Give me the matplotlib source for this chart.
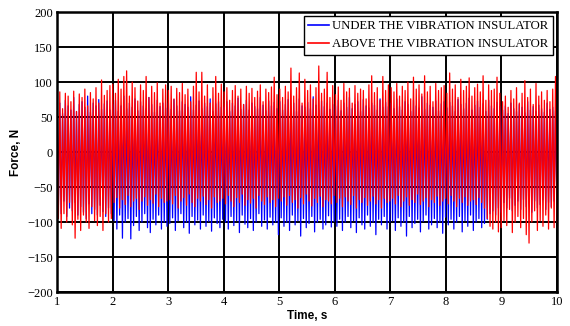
import numpy as np
from matplotlib import pyplot as plt

# peak values, 20 per second from t=1 to t=10
red_hi = [76, 86, 62, 84, 80, 72, 87, 58, 83, 78, 90, 66, 85, 76, 92, 70, 103, 81, 88, 95,
          97, 84, 104, 90, 108, 116, 80, 100, 92, 73, 96, 88, 108, 78, 94, 85, 99, 70, 90, 96,
          88, 94, 76, 91, 85, 98, 82, 90, 72, 94, 114, 86, 114, 80, 96, 70, 92, 108, 84, 97,
          86, 92, 74, 88, 95, 80, 90, 68, 94, 84, 91, 78, 87, 96, 72, 90, 85, 93, 107, 82,
          90, 78, 94, 86, 120, 80, 92, 113, 70, 104, 88, 96, 76, 92, 123, 84, 90, 114, 78, 95,
          82, 93, 74, 98, 86, 91, 70, 95, 84, 90, 88, 76, 96, 109, 85, 92, 74, 108, 88, 96,
          92, 86, 98, 80, 94, 88, 100, 76, 107, 90, 96, 83, 109, 86, 94, 72, 98, 88, 92, 95,
          84, 113, 90, 96, 78, 104, 88, 94, 106, 80, 92, 97, 86, 109, 74, 96, 88, 90, 107, 84,
          72, 80, 64, 88, 76, 92, 70, 84, 102, 78, 90, 68, 98, 80, 86, 74, 88, 72, 90, 108]
red_lo = [-95, -109, -88, -100, -72, -104, -123, -96, -112, -90, -100, -109, -78, -98, -105, -92, -112, -88, -100, -95,
          -72, -65, -80, -68, -75, -62, -78, -70, -66, -82, -70, -64, -76, -68, -73, -60, -78, -66, -72, -70,
          -68, -74, -62, -80, -70, -65, -76, -60, -72, -78, -66, -70, -63, -75, -68, -80, -64, -72, -70, -66,
          -74, -62, -70, -78, -65, -72, -60, -76, -68, -73, -66, -80, -62, -70, -75, -64, -72, -68, -78, -66,
          -70, -64, -76, -62, -72, -68, -80, -65, -74, -60, -70, -77, -66, -72, -63, -78, -68, -70, -74, -62,
          -72, -66, -78, -64, -70, -75, -62, -80, -68, -72, -65, -76, -70, -63, -74, -68, -80, -66, -72, -70,
          -66, -74, -62, -78, -70, -64, -76, -68, -72, -60, -75, -70, -65, -78, -68, -72, -63, -76, -70, -66,
          -74, -62, -70, -78, -66, -72, -64, -76, -70, -68, -75, -65, -72, -80, -95, -106, -110, -100, -114, -108,
          -98, -105, -82, -115, -100, -92, -108, -95, -118, -130, -100, -84, -112, -98, -106, -90, -110, -80, -108, -100]
blue_hi = [62, 70, 55, 74, 66, 60, 78, 58, 68, 72, 64, 80, 57, 70, 66, 75, 61, 69, 73, 60,
           68, 74, 58, 66, 80, 62, 70, 64, 76, 59, 72, 66, 62, 78, 68, 57, 74, 65, 70, 63,
           70, 61, 75, 66, 59, 72, 68, 64, 79, 60, 67, 73, 62, 70, 65, 76, 58, 69, 72, 64,
           64, 72, 58, 70, 66, 77, 61, 68, 74, 60, 70, 65, 62, 78, 67, 59, 73, 66, 71, 62,
           72, 60, 68, 75, 63, 70, 58, 76, 66, 64, 71, 62, 79, 67, 60, 73, 65, 70, 61, 68,
           66, 74, 59, 70, 64, 78, 62, 68, 72, 58, 75, 66, 63, 70, 67, 60, 76, 64, 71, 65,
           70, 62, 76, 65, 60, 72, 68, 58, 74, 66, 63, 79, 61, 70, 67, 64, 73, 59, 69, 72,
           63, 71, 66, 58, 75, 68, 62, 70, 77, 60, 67, 73, 64, 69, 58, 74, 66, 62, 71, 65,
           60, 66, 55, 70, 62, 58, 68, 64, 56, 72, 60, 65, 58, 67, 62, 57, 70, 61, 64, 59]
blue_lo = [-75, -88, -70, -92, -80, -84, -72, -90, -78, -86, -95, -74, -88, -82, -90, -76, -85, -92, -80, -88,
           -98, -110, -90, -123, -100, -95, -124, -105, -92, -112, -100, -88, -108, -115, -96, -104, -90, -110, -100, -106,
           -102, -94, -112, -98, -88, -108, -100, -116, -92, -104, -97, -110, -90, -106, -99, -113, -94, -102, -108, -96,
           -100, -110, -92, -105, -98, -115, -90, -103, -108, -95, -112, -100, -88, -106, -97, -110, -93, -104, -100, -118,
           -94, -106, -100, -112, -90, -104, -98, -120, -95, -108, -102, -92, -114, -100, -96, -110, -104, -91, -107, -99,
           -106, -96, -112, -100, -92, -108, -98, -115, -94, -104, -110, -90, -106, -100, -118, -96, -104, -92, -110, -100,
           -98, -112, -94, -106, -100, -120, -92, -108, -102, -96, -114, -99, -90, -110, -104, -95, -108, -100, -116, -93,
           -104, -96, -110, -100, -92, -114, -98, -106, -90, -112, -100, -95, -108, -102, -96, -88, -84, -90, -80, -86,
           -72, -80, -66, -84, -76, -70, -82, -68, -78, -74, -86, -70, -80, -75, -68, -82, -72, -78, -70, -76]

t_start, t_end = 1, 10


def zigzag(hi, lo):
    return np.column_stack([hi, lo]).ravel()


red = zigzag(red_hi, red_lo)
blue = zigzag(blue_hi, blue_lo)
t = np.linspace(t_start, t_end, len(red))

fig = plt.figure(figsize=(5.7, 3.26), dpi=100)
ax = fig.add_axes([0.1, 0.104, 0.877, 0.859])

ax.plot(t, blue, color='#0000ff', lw=0.9, label='UNDER THE VIBRATION INSULATOR')
ax.plot(t, red, color='#ff0000', lw=0.9, label='ABOVE THE VIBRATION INSULATOR')

ax.set_xlim(1, 10)
ax.set_ylim(-200, 200)
ax.set_xticks(range(1, 11))
ax.set_yticks(range(-200, 201, 50))
ax.grid(True, color='black', lw=1.4, ls='-')
ax.set_axisbelow(True)
for sp in ax.spines.values():
    sp.set_linewidth(1.8)
ax.tick_params(length=0, pad=3, labelsize=9)
for lab in ax.get_xticklabels() + ax.get_yticklabels():
    lab.set_family('Liberation Serif')

ax.set_xlabel('Time, s', family='Liberation Sans', weight='bold', fontsize=8.5, labelpad=1)
ax.set_ylabel('Force, N', family='Liberation Sans', weight='bold', fontsize=8.5, labelpad=4)

leg = ax.legend(loc='upper right', prop={'family': 'Liberation Serif', 'size': 9.2},
                fancybox=False, framealpha=1, edgecolor='black', borderpad=0.35,
                handlelength=1.6, handletextpad=0.3, labelspacing=0.45, borderaxespad=0.3)
leg.get_frame().set_linewidth(1.0)
for line in leg.get_lines():
    line.set_linewidth(1.2)

fig.savefig('out.png', dpi=100)
